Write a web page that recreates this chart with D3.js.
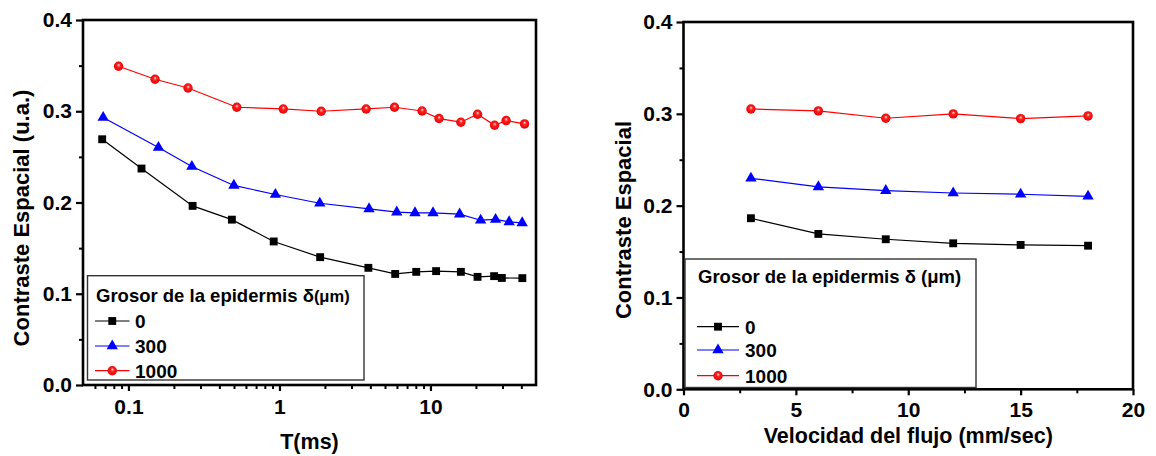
<!DOCTYPE html>
<html>
<head>
<meta charset="utf-8">
<script src="https://cdn.jsdelivr.net/npm/d3@7"></script>
<style>
  body { margin: 0; background: #fff; }
  svg text { font-family: "Liberation Sans", Arial, Helvetica, sans-serif; font-weight: bold; fill: #000; }
</style>
</head>
<body>
<svg id="chart" width="1156" height="456"></svg>
<script>
// ---- Data: spatial contrast vs exposure time (log axis) ----
const seriesNames = ["0", "300", "1000"];

const timeD0 = [0.067, 0.122, 0.266, 0.484, 0.916, 1.86, 3.88, 5.84, 8.05, 10.9, 15.9, 20.5, 26.4, 29.7, 40.6];
const contrastD0 = [0.2693, 0.2372, 0.1963, 0.1812, 0.1573, 0.1401, 0.1284, 0.1217, 0.1240, 0.1248, 0.1240, 0.1185, 0.1193, 0.1173, 0.1171];

const timeD300 = [0.068, 0.158, 0.263, 0.499, 0.94, 1.85, 3.92, 5.98, 7.9, 10.4, 15.6, 21.5, 27.0, 33.2, 40.5];
const contrastD300 = [0.2931, 0.2602, 0.2395, 0.2187, 0.2088, 0.1992, 0.1930, 0.1894, 0.1886, 0.1886, 0.1872, 0.1806, 0.1814, 0.1788, 0.1777];

const timeD1000 = [0.086, 0.150, 0.248, 0.522, 1.06, 1.89, 3.75, 5.78, 8.8, 11.4, 15.9, 20.5, 26.6, 31.7, 42.0];
const contrastD1000 = [0.3493, 0.3351, 0.3255, 0.3044, 0.3025, 0.3000, 0.3025, 0.3044, 0.3003, 0.2920, 0.2880, 0.2967, 0.2847, 0.2898, 0.2861];

// ---- Data: spatial contrast vs flow velocity ----
const flowSpeed = [3, 6, 9, 12, 15, 18];
const flowD0 = [0.1863, 0.1692, 0.1634, 0.1590, 0.1572, 0.1564];
const flowD300 = [0.2298, 0.2204, 0.2163, 0.2138, 0.2124, 0.2102];
const flowD1000 = [0.3053, 0.3032, 0.2952, 0.2999, 0.2948, 0.2977];

// ---- Tick values ----
const contrastTicks = [0, 0.1, 0.2, 0.3, 0.4];
const contrastMinor = [0.05, 0.15, 0.25, 0.35];
const timeTicks = [0.1, 1, 10];
const timeMinor = [0.06, 0.07, 0.08, 0.09, 0.2, 0.3, 0.4, 0.5, 0.6, 0.7, 0.8, 0.9,
                   2, 3, 4, 5, 6, 7, 8, 9, 20, 30, 40];
const speedTicks = [0, 5, 10, 15, 20];
const speedMinor = [2.5, 7.5, 12.5, 17.5];

const svg = d3.select("#chart");

// shaded ball used for the 1000 µm series
const defs = svg.append("defs");
const grad = defs.append("radialGradient").attr("id", "ball")
  .attr("cx", "50%").attr("cy", "50%").attr("r", "55%")
  .attr("fx", "52%").attr("fy", "35%");
grad.append("stop").attr("offset", "0%").attr("stop-color", "#ffe0e0");
grad.append("stop").attr("offset", "35%").attr("stop-color", "#ff2020");
grad.append("stop").attr("offset", "100%").attr("stop-color", "#e00000");

const styles = [
  { color: "#000000", shape: "square" },
  { color: "#0000ff", shape: "triangle" },
  { color: "#ff0000", shape: "circle" }
];

function drawMarker(g, shape, color, cx, cy) {
  if (shape === "square") {
    g.append("path").attr("d", d3.symbol(d3.symbolSquare, 62)())
      .attr("transform", `translate(${cx},${cy})`).attr("fill", color);
  } else if (shape === "triangle") {
    g.append("path").attr("d", d3.symbol(d3.symbolTriangle, 56)())
      .attr("transform", `translate(${cx},${cy})`).attr("fill", color);
  } else {
    g.append("circle").attr("cx", cx).attr("cy", cy).attr("r", 4.7)
      .attr("fill", "url(#ball)");
  }
}

function styleAxis(g, width) {
  g.select(".domain").remove();
  g.selectAll(".tick line").attr("stroke", "#000").attr("stroke-width", width);
  g.selectAll(".tick text").style("font-size", "21px");
}

function panel(cfg) {
  const { x, y, left, right, top, bottom } = cfg;
  const g = svg.append("g");

  // lines and markers
  cfg.series.forEach((s, i) => {
    const st = styles[i];
    const pts = s.xs.map((v, k) => [x(v), y(s.ys[k])]);
    g.append("path").attr("d", d3.line()(pts))
      .attr("fill", "none").attr("stroke", st.color).attr("stroke-width", 1.2);
    pts.forEach(p => drawMarker(g, st.shape, st.color, p[0], p[1]));
  });

  // frame
  g.append("rect").attr("x", left).attr("y", top)
    .attr("width", right - left).attr("height", bottom - top)
    .attr("fill", "none").attr("stroke", "#000").attr("stroke-width", 2.6);

  // y axis
  const ya = g.append("g").attr("transform", `translate(${left},0)`)
    .call(d3.axisLeft(y).tickValues(contrastTicks).tickSize(7).tickPadding(4)
      .tickFormat(d3.format(".1f")));
  styleAxis(ya, 2.2);
  const ym = g.append("g").attr("transform", `translate(${left},0)`)
    .call(d3.axisLeft(y).tickValues(contrastMinor).tickSize(4).tickFormat(""));
  styleAxis(ym, 2);

  // x axis
  const xa = g.append("g").attr("transform", `translate(0,${bottom})`)
    .call(d3.axisBottom(x).tickValues(cfg.xTicks).tickSize(6).tickPadding(cfg.xPad)
      .tickFormat(cfg.xFormat));
  styleAxis(xa, 2.2);
  const xm = g.append("g").attr("transform", `translate(0,${bottom})`)
    .call(d3.axisBottom(x).tickValues(cfg.xMinor).tickSize(4).tickFormat(""));
  styleAxis(xm, 2);

  // axis titles
  g.append("text").attr("transform", `translate(${cfg.yTitleX},${cfg.yTitleY}) rotate(-90)`)
    .attr("text-anchor", "middle").style("font-size", "22px").text(cfg.yTitle);
  g.append("text").attr("x", (left + right) / 2).attr("y", cfg.xTitleY)
    .attr("text-anchor", "middle").style("font-size", "21.5px").text(cfg.xTitle);

  // legend
  const L = cfg.legend;
  const lg = g.append("g");
  lg.append("rect").attr("x", L.x).attr("y", L.y).attr("width", L.w).attr("height", L.h)
    .attr("fill", "#fff").attr("stroke", "#333").attr("stroke-width", 1.4);
  const t = lg.append("text").attr("x", L.titleX).attr("y", L.titleY).style("font-size", "18.5px");
  t.append("tspan").text("Grosor de la epidermis δ");
  t.append("tspan").style("font-size", L.unitSize).text(L.unitText);
  seriesNames.forEach((name, i) => {
    const st = styles[i];
    const ly = L.rows[i];
    lg.append("line").attr("x1", L.lineX0).attr("x2", L.lineX1).attr("y1", ly).attr("y2", ly)
      .attr("stroke", st.color).attr("stroke-width", 1.2);
    drawMarker(lg, st.shape, st.color, (L.lineX0 + L.lineX1) / 2, ly);
    lg.append("text").attr("x", L.labelX).attr("y", ly + 7).style("font-size", "19px").text(name);
  });
}

// Left: contrast vs exposure time
panel({
  x: d3.scaleLog().domain([0.05, 50]).range([83, 536]),
  y: d3.scaleLinear().domain([0, 0.4]).range([385, 20]),
  left: 83, right: 536, top: 20, bottom: 385,
  series: [
    { xs: timeD0, ys: contrastD0 },
    { xs: timeD300, ys: contrastD300 },
    { xs: timeD1000, ys: contrastD1000 }
  ],
  xTicks: timeTicks, xMinor: timeMinor, xFormat: d3.format(""), xPad: 8,
  yTitle: "Contraste Espacial (u.a.)", yTitleX: 28.5, yTitleY: 218,
  xTitle: "T(ms)", xTitleY: 449,
  legend: {
    x: 87.5, y: 275.7, w: 276.5, h: 104.3,
    titleX: 96, titleY: 301.7, unitText: "(μm)", unitSize: "16.5px",
    rows: [321, 346, 370.7], lineX0: 95, lineX1: 129.5, labelX: 135
  }
});

// Right: contrast vs flow velocity
panel({
  x: d3.scaleLinear().domain([0, 20]).range([683.5, 1133]),
  y: d3.scaleLinear().domain([0, 0.4]).range([389.3, 22]),
  left: 683.5, right: 1133, top: 22, bottom: 389.3,
  series: [
    { xs: flowSpeed, ys: flowD0 },
    { xs: flowSpeed, ys: flowD300 },
    { xs: flowSpeed, ys: flowD1000 }
  ],
  xTicks: speedTicks, xMinor: speedMinor, xFormat: d3.format("d"), xPad: 7,
  yTitle: "Contraste Espacial", yTitleX: 630.5, yTitleY: 220,
  xTitle: "Velocidad del flujo (mm/sec)", xTitleY: 443,
  legend: {
    x: 685, y: 259, w: 291, h: 128.5,
    titleX: 698, titleY: 283.3, unitText: " (μm)", unitSize: "18.5px",
    rows: [326.7, 350, 375.7], lineX0: 697, lineX1: 739, labelX: 745
  }
});
</script>
</body>
</html>
